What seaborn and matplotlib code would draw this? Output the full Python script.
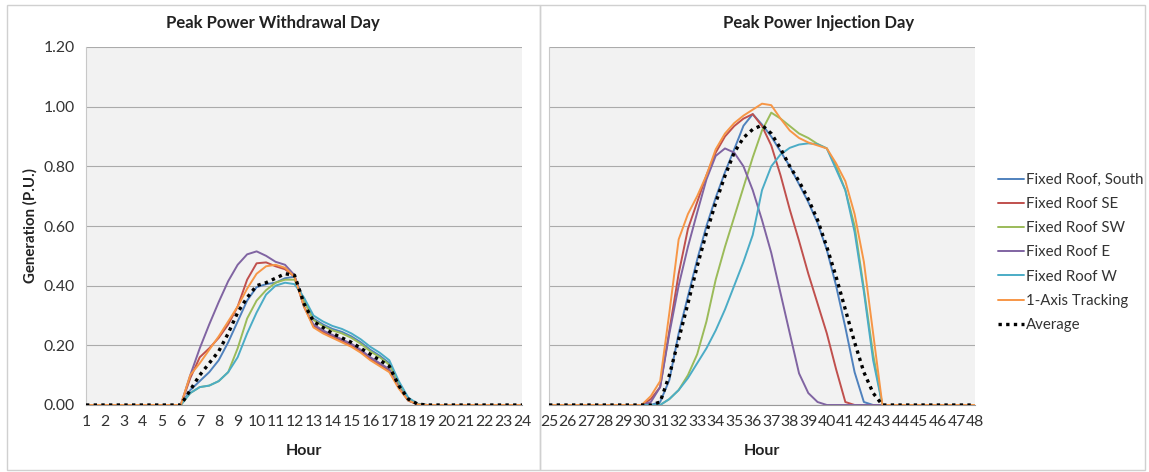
import matplotlib
matplotlib.use("Agg")
import matplotlib.pyplot as plt
import seaborn as sns
import pandas as pd
from matplotlib.lines import Line2D
from matplotlib.patches import Rectangle

sns.set_style("white")
plt.rcParams['font.family'] = ['Lato', 'DejaVu Sans']

# --- data: hours and per-unit generation ---
series_names = ["Fixed Roof, South", "Fixed Roof SE", "Fixed Roof SW",
                "Fixed Roof E", "Fixed Roof W", "1-Axis Tracking", "Average"]
colors = ["#4F81BD", "#C0504D", "#9BBB59", "#8064A2", "#4BACC6", "#F79646", "black"]

# withdrawal day: hours 1..5, 6..19 by half hour, 20..24
wd_hours = [1, 2, 3, 4, 5,
            6, 6.5, 7, 7.5, 8, 8.5, 9, 9.5, 10, 10.5, 11, 11.5, 12, 12.5,
            13, 13.5, 14, 14.5, 15, 15.5, 16, 16.5, 17, 17.5, 18, 18.5, 19,
            20, 21, 22, 23, 24]
wd_off = [0, 0, 0, 0, 0]
wd_south = wd_off + [0, 0.05, 0.08, 0.11, 0.15, 0.21, 0.28, 0.35, 0.395, 0.405, 0.41, 0.425, 0.43, 0.35,
                     0.29, 0.27, 0.255, 0.245, 0.23, 0.21, 0.185, 0.165, 0.14, 0.075, 0.02, 0.003, 0] + wd_off
wd_se = wd_off + [0, 0.09, 0.16, 0.19, 0.225, 0.27, 0.33, 0.42, 0.475, 0.478, 0.465, 0.455, 0.43, 0.33,
                  0.265, 0.245, 0.23, 0.215, 0.2, 0.18, 0.155, 0.135, 0.115, 0.06, 0.015, 0.002, 0] + wd_off
wd_sw = wd_off + [0, 0.04, 0.06, 0.065, 0.08, 0.11, 0.19, 0.29, 0.35, 0.385, 0.41, 0.42, 0.42, 0.35,
                  0.285, 0.265, 0.25, 0.24, 0.225, 0.205, 0.18, 0.16, 0.135, 0.07, 0.02, 0.003, 0] + wd_off
wd_e = wd_off + [0, 0.1, 0.19, 0.27, 0.345, 0.415, 0.47, 0.505, 0.515, 0.5, 0.48, 0.47, 0.435, 0.33,
                 0.27, 0.25, 0.235, 0.22, 0.205, 0.185, 0.16, 0.14, 0.12, 0.06, 0.015, 0.002, 0] + wd_off
wd_w = wd_off + [0, 0.04, 0.06, 0.065, 0.08, 0.11, 0.16, 0.24, 0.31, 0.37, 0.4, 0.41, 0.405, 0.36,
                 0.3, 0.28, 0.265, 0.255, 0.24, 0.22, 0.195, 0.175, 0.15, 0.08, 0.025, 0.004, 0] + wd_off
wd_track = wd_off + [0, 0.1, 0.14, 0.185, 0.23, 0.28, 0.33, 0.39, 0.44, 0.465, 0.47, 0.46, 0.43, 0.33,
                     0.26, 0.24, 0.225, 0.21, 0.195, 0.175, 0.15, 0.13, 0.11, 0.055, 0.015, 0.002, 0] + wd_off
wd_avg = wd_off + [0, 0.05, 0.1, 0.14, 0.18, 0.24, 0.31, 0.36, 0.4, 0.41, 0.425, 0.44, 0.435, 0.34,
                   0.28, 0.26, 0.24, 0.225, 0.21, 0.19, 0.17, 0.15, 0.13, 0.065, 0.02, 0.003, 0] + wd_off

# injection day: hours 25..29, 30..43 by half hour, 44..48
inj_hours = [25, 26, 27, 28, 29,
             30, 30.5, 31, 31.5, 32, 32.5, 33, 33.5, 34, 34.5, 35, 35.5, 36, 36.5,
             37, 37.5, 38, 38.5, 39, 39.5, 40, 40.5, 41, 41.5, 42, 42.5, 43,
             44, 45, 46, 47, 48]
inj_off = [0, 0, 0, 0, 0]
inj_south = inj_off + [0, 0, 0.01, 0.084, 0.24, 0.364, 0.487, 0.6, 0.695, 0.78, 0.857, 0.936, 0.975, 0.94,
                       0.9, 0.85, 0.8, 0.74, 0.68, 0.61, 0.52, 0.4, 0.26, 0.11, 0.01, 0, 0] + inj_off
inj_se = inj_off + [0, 0.02, 0.06, 0.25, 0.44, 0.59, 0.68, 0.77, 0.846, 0.9, 0.935, 0.96, 0.975, 0.935,
                    0.87, 0.77, 0.655, 0.55, 0.44, 0.34, 0.24, 0.12, 0.01, 0, 0, 0, 0] + inj_off
inj_sw = inj_off + [0, 0, 0, 0.02, 0.05, 0.1, 0.17, 0.28, 0.42, 0.53, 0.63, 0.73, 0.83, 0.92,
                    0.98, 0.96, 0.935, 0.91, 0.895, 0.875, 0.86, 0.8, 0.72, 0.6, 0.39, 0.17, 0] + inj_off
inj_e = inj_off + [0, 0.01, 0.06, 0.24, 0.4, 0.53, 0.645, 0.756, 0.835, 0.86, 0.846, 0.8, 0.72, 0.62,
                   0.51, 0.375, 0.24, 0.106, 0.04, 0.01, 0, 0, 0, 0, 0, 0, 0] + inj_off
inj_w = inj_off + [0, 0, 0, 0.02, 0.05, 0.09, 0.14, 0.19, 0.25, 0.32, 0.4, 0.48, 0.57, 0.72,
                   0.8, 0.84, 0.862, 0.873, 0.877, 0.874, 0.86, 0.79, 0.72, 0.58, 0.38, 0.15, 0] + inj_off
inj_track = inj_off + [0, 0.03, 0.08, 0.31, 0.555, 0.64, 0.7, 0.77, 0.857, 0.91, 0.945, 0.97, 0.99, 1.01,
                       1.005, 0.96, 0.92, 0.895, 0.88, 0.87, 0.86, 0.81, 0.75, 0.64, 0.48, 0.24, 0] + inj_off
inj_avg = inj_off + [0, 0, 0.01, 0.1, 0.22, 0.34, 0.465, 0.577, 0.678, 0.768, 0.846, 0.896, 0.924, 0.938,
                     0.91, 0.86, 0.8, 0.75, 0.69, 0.62, 0.53, 0.43, 0.32, 0.21, 0.11, 0.04, 0] + inj_off

wd_series = [wd_south, wd_se, wd_sw, wd_e, wd_w, wd_track, wd_avg]
inj_series = [inj_south, inj_se, inj_sw, inj_e, inj_w, inj_track, inj_avg]

y_ticks = [0, 0.2, 0.4, 0.6, 0.8, 1.0, 1.2]

W, H = 1149, 472
fig = plt.figure(figsize=(W / 100, H / 100), dpi=100)

# chart frames
for x0, x1 in [(7, 540), (540, 1145)]:
    fig.patches.append(Rectangle((x0 / W, 1 - 470 / H), (x1 - x0) / W, (470 - 5) / H,
                                 transform=fig.transFigure, fill=False,
                                 edgecolor="#D0D0D0", linewidth=1.0))

ax1 = fig.add_axes([86 / W, 1 - 405 / H, (522 - 86) / W, (405 - 47) / H])
ax2 = fig.add_axes([549 / W, 1 - 405 / H, (975 - 549) / W, (405 - 47) / H])


def draw(ax, hours, series, first_hour):
    for name, vals, col in zip(series_names, series, colors):
        df = pd.DataFrame({"hour": hours, "gen": vals})
        if name == "Average":
            sns.lineplot(data=df, x="hour", y="gen", ax=ax, color=col, linewidth=2.4,
                         linestyle=(0, (1, 1.3)), zorder=5)
        else:
            sns.lineplot(data=df, x="hour", y="gen", ax=ax, color=col, linewidth=1.4, zorder=4)
    ax.set_facecolor("#F2F2F2")
    ax.set_xlim(first_hour, first_hour + 23)
    ax.set_ylim(0, 1.2)
    ax.set_xticks(range(first_hour, first_hour + 24))
    ax.set_yticks(y_ticks)
    ax.grid(axis="y", color="#ABABAB", linewidth=0.8)
    ax.grid(axis="x", visible=False)
    ax.set_axisbelow(True)
    for side in ["top", "right"]:
        ax.spines[side].set_visible(False)
    ax.spines["left"].set_color("#C8C8C8")
    ax.spines["bottom"].set_color("#9A9A9A")
    ax.spines["left"].set_linewidth(0.8)
    ax.spines["bottom"].set_linewidth(0.8)
    ax.tick_params(axis="x", direction="out", length=4, width=0.8, color="#9A9A9A",
                   labelsize=11.3, labelcolor="#333333", pad=3)
    ax.tick_params(axis="y", direction="out", length=5, width=0.8, color="#ABABAB",
                   labelsize=11.3, labelcolor="#333333", pad=3)
    ax.set_xlabel("Hour", fontsize=11.5, fontweight="bold", color="#222222", labelpad=11)
    ax.set_ylabel("")


draw(ax1, wd_hours, wd_series, 1)
draw(ax2, inj_hours, inj_series, 25)

ax1.set_yticklabels([f"{v:.2f}" for v in y_ticks])
ax2.set_yticklabels([])

fig.text(273 / W, 1 - 23 / H, "Peak Power Withdrawal Day", ha="center", va="center",
         fontsize=12, fontweight="bold", color="#222222")
fig.text(819 / W, 1 - 23 / H, "Peak Power Injection Day", ha="center", va="center",
         fontsize=12, fontweight="bold", color="#222222")
fig.text(30 / W, 1 - 226 / H, "Generation (P.U.)", ha="center", va="center", rotation=90,
         fontsize=10.8, fontweight="bold", color="#222222")

handles = []
for name, col in zip(series_names, colors):
    if name == "Average":
        handles.append(Line2D([], [], color=col, linewidth=2.4, linestyle=(0, (1, 1.3)), label=name))
    else:
        handles.append(Line2D([], [], color=col, linewidth=1.4, label=name))
fig.legend(handles=handles, loc="center left", bbox_to_anchor=(998 / W, 1 - 252.5 / H),
           frameon=False, fontsize=10.8, labelspacing=0.68, handlelength=1.7,
           handletextpad=0.15, borderpad=0, borderaxespad=0, labelcolor="#333333")

fig.savefig("out.png", dpi=100)
